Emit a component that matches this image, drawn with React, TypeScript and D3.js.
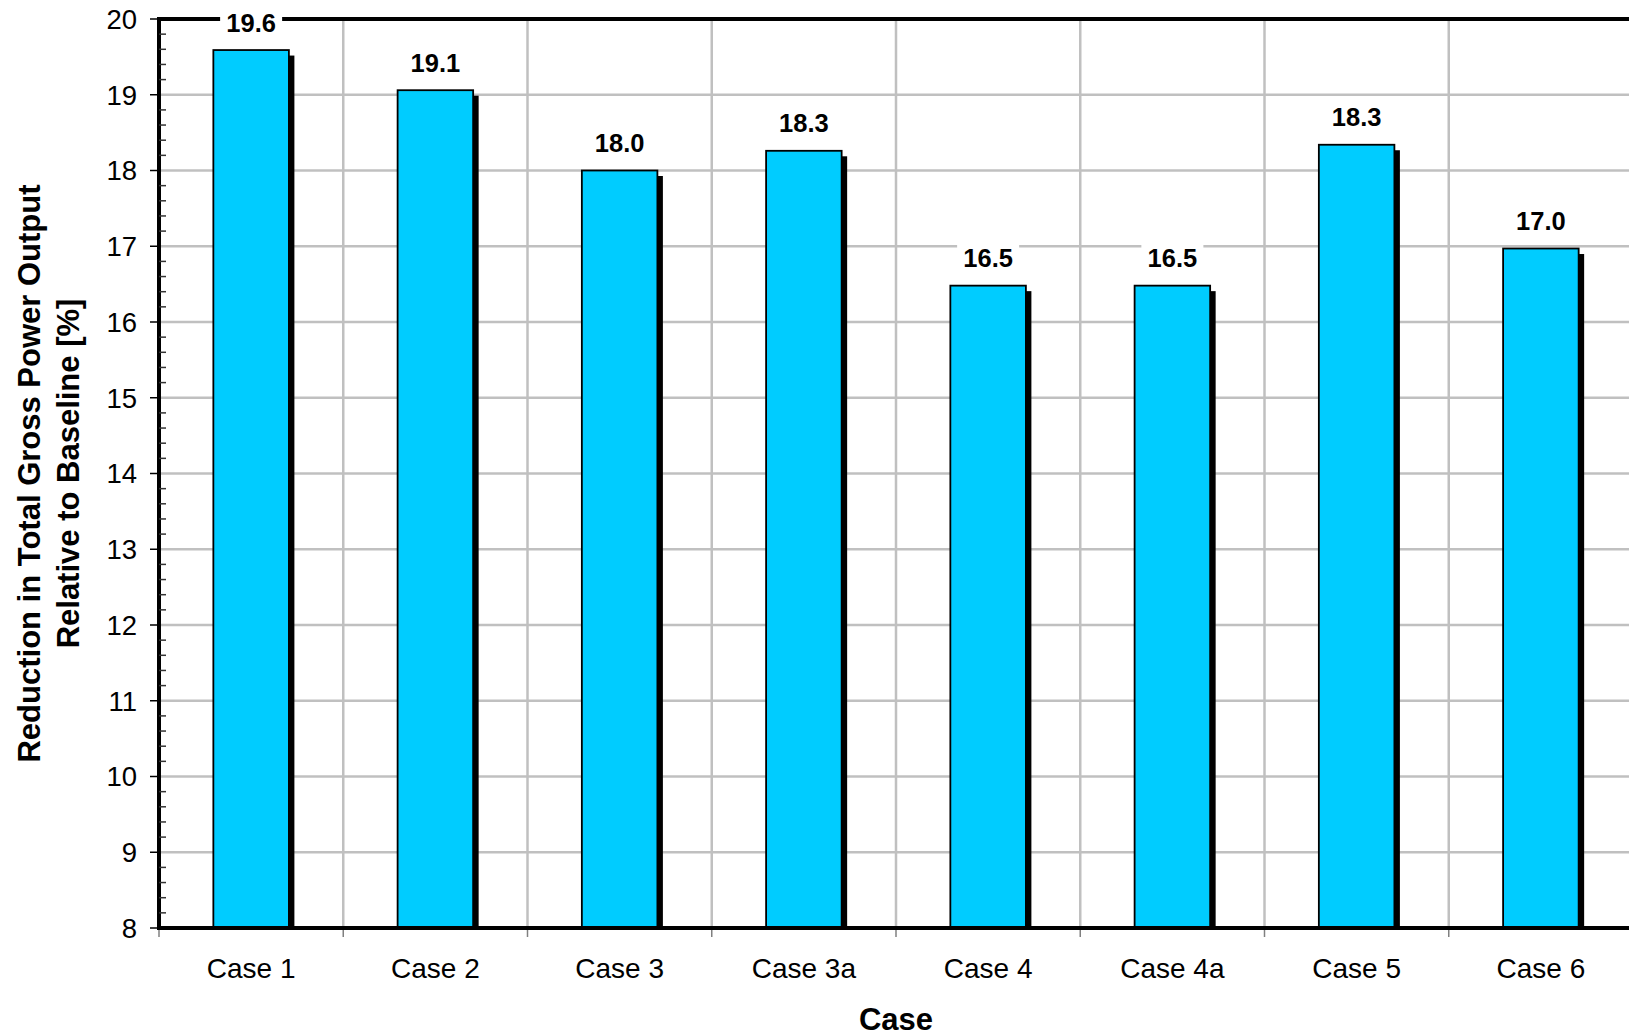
import React from "react";
import * as d3 from "d3";

const categories = ["Case 1", "Case 2", "Case 3", "Case 3a", "Case 4", "Case 4a", "Case 5", "Case 6"];
const values = [19.59, 19.06, 18.0, 18.26, 16.48, 16.48, 18.34, 16.97];
const yTicks = [8, 9, 10, 11, 12, 13, 14, 15, 16, 17, 18, 19, 20];
const yTitleLines = ["Reduction in Total Gross Power Output", "Relative to Baseline [%]"];
const xTitle = "Case";

const W = 1629;
const H = 1036;
const FONT = "'Liberation Sans', Arial, Helvetica, sans-serif";

export default function App() {
  const left = 159;
  const right = 1633;
  const top = 19;
  const bottom = 928;
  const x = d3.scaleBand<string>().domain(categories).range([left, right]).paddingInner(0).paddingOuter(0);
  const y = d3.scaleLinear().domain([8, 20]).range([bottom, top]);
  const bw = x.bandwidth() * 0.41;
  const minorTicks = d3.range(8, 20.001, 0.2).filter((v) => Math.abs(v - Math.round(v)) > 1e-6);
  const shadow = 5.5;

  React.useEffect(() => {
    document.body.style.margin = "0";
    document.body.style.overflow = "hidden";
  }, []);

  return (
    <svg width={W} height={H} style={{ position: "absolute", left: 0, top: 0, background: "#fff" }} fontFamily={FONT}>
      <rect x={0} y={0} width={W} height={H} fill="#fff" />
      {yTicks.filter((t) => t > 8 && t < 20).map((t) => (
        <line key={"hg" + t} x1={left} x2={right} y1={y(t)} y2={y(t)} stroke="#c0c0c0" strokeWidth={2.5} />
      ))}
      {categories.slice(1).map((c) => (
        <line key={"vg" + c} x1={x(c)!} x2={x(c)!} y1={top} y2={bottom} stroke="#c0c0c0" strokeWidth={2.5} />
      ))}
      {categories.map((c) => (
        <line key={"xt" + c} x1={x(c)!} x2={x(c)!} y1={bottom} y2={bottom + 9} stroke="#808080" strokeWidth={1.5} />
      ))}
      {categories.map((c, i) => {
        const bx = x(c)! + (x.bandwidth() - bw) / 2;
        const by = y(values[i]);
        return (
          <g key={"bar" + c}>
            <rect x={bx + shadow} y={by + shadow} width={bw} height={bottom - by - shadow} fill="#000" />
            <rect x={bx} y={by} width={bw} height={bottom - by} fill="#00ccff" stroke="#000" strokeWidth={1.8} />
          </g>
        );
      })}
      <rect x={left} y={top} width={right - left} height={bottom - top} fill="none" stroke="#000" strokeWidth={4} />
      {minorTicks.map((t, i) => (
        <line key={"mt" + i} x1={left} x2={left + 7} y1={y(t)} y2={y(t)} stroke="#333" strokeWidth={1.5} />
      ))}
      {yTicks.map((t) => (
        <line key={"yt" + t} x1={left - 9} x2={left} y1={y(t)} y2={y(t)} stroke="#000" strokeWidth={1.5} />
      ))}
      {yTicks.map((t) => (
        <text key={"yl" + t} x={137} y={y(t)} dy="0.36em" textAnchor="end" fontSize={27.5} fill="#000">
          {t}
        </text>
      ))}
      {categories.map((c) => (
        <text key={"xl" + c} x={x(c)! + x.bandwidth() / 2} y={978} textAnchor="middle" fontSize={28} fill="#000">
          {c}
        </text>
      ))}
      {categories.map((c, i) => {
        const cx = x(c)! + x.bandwidth() / 2;
        const cy = y(values[i]) - 27.5;
        return (
          <g key={"vl" + c}>
            <rect x={cx - 31} y={cy - 14} width={62} height={28} fill="#fff" />
            <text x={cx} y={cy} dy="0.36em" textAnchor="middle" fontSize={25.5} fontWeight="bold" fill="#000">
              {values[i].toFixed(1)}
            </text>
          </g>
        );
      })}
      {yTitleLines.map((l, i) => (
        <text
          key={"ytl" + i}
          transform={`translate(${29 + i * 39},${(top + bottom) / 2}) rotate(-90)`}
          dy="0.36em"
          textAnchor="middle"
          fontSize={31}
          fontWeight="bold"
          fill="#000"
        >
          {l}
        </text>
      ))}
      <text x={(left + right) / 2} y={1030} textAnchor="middle" fontSize={31} fontWeight="bold" fill="#000">
        {xTitle}
      </text>
    </svg>
  );
}
